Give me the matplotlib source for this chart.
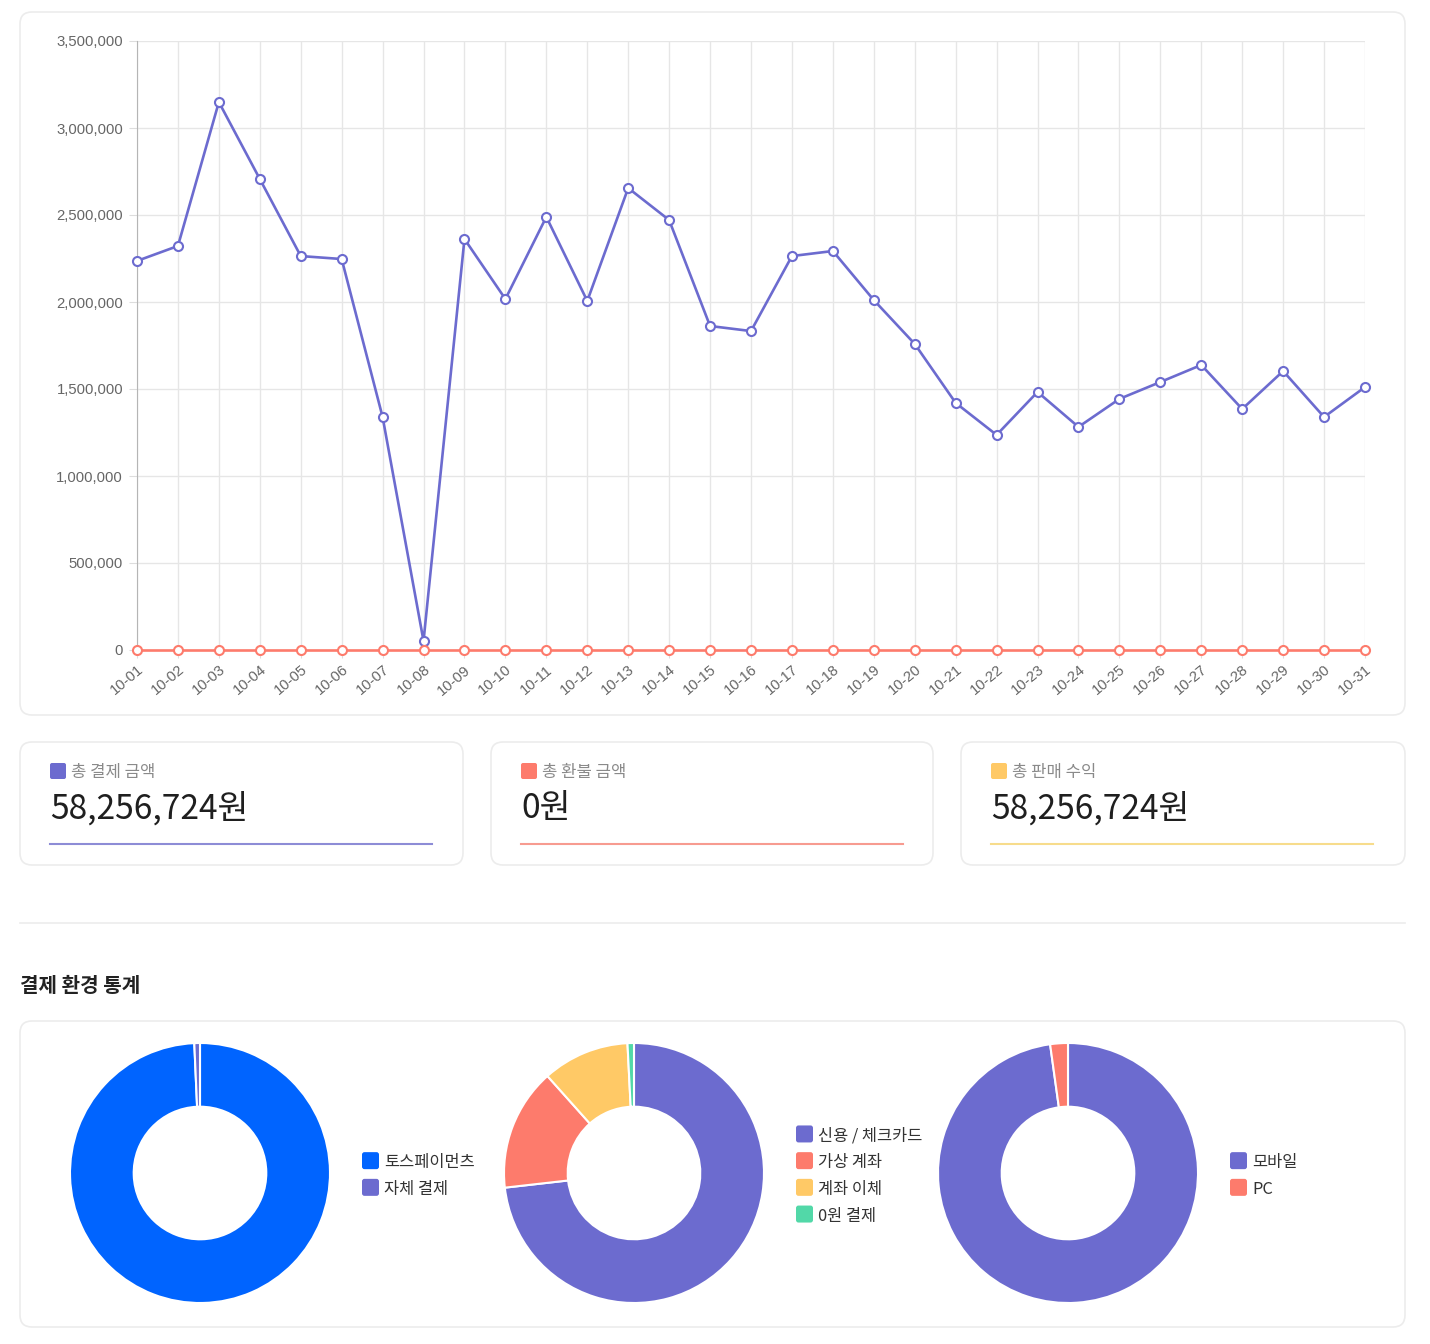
import matplotlib
matplotlib.use("Agg")
import matplotlib.pyplot as plt
from matplotlib.patches import FancyBboxPatch
from matplotlib.ticker import FuncFormatter, MultipleLocator

KR = ['Noto Sans CJK KR', 'DejaVu Sans']
AX_FONT = ['Liberation Sans', 'DejaVu Sans']

# ---- data ----
dates = ['10-01', '10-02', '10-03', '10-04', '10-05', '10-06', '10-07', '10-08',
         '10-09', '10-10', '10-11', '10-12', '10-13', '10-14', '10-15', '10-16',
         '10-17', '10-18', '10-19', '10-20', '10-21', '10-22', '10-23', '10-24',
         '10-25', '10-26', '10-27', '10-28', '10-29', '10-30', '10-31']
payments = [2236000, 2322000, 3149000, 2707000, 2264000, 2247000, 1339000, 52000,
            2362000, 2017000, 2489000, 2006000, 2655000, 2471000, 1862000, 1833000,
            2264000, 2293000, 2011000, 1759000, 1420000, 1236000, 1483000, 1282000,
            1443000, 1540000, 1638000, 1385000, 1603000, 1339000, 1511000]
refunds = [0, 0, 0, 0, 0, 0, 0, 0, 0, 0, 0, 0, 0, 0, 0, 0,
           0, 0, 0, 0, 0, 0, 0, 0, 0, 0, 0, 0, 0, 0, 0]

summary_labels = ['총 결제 금액', '총 환불 금액', '총 판매 수익']
summary_values = [58256724, 0, 58256724]

pg_labels = ['토스페이먼츠', '자체 결제']
pg_share = [99.3, 0.7]
method_labels = ['신용 / 체크카드', '가상 계좌', '계좌 이체', '0원 결제']
method_share = [73.2, 15.2, 10.8, 0.8]
device_labels = ['모바일', 'PC']
device_share = [97.8, 2.2]

PURPLE = '#6c6bcf'
RED = '#fd7b6c'
YELLOW = '#ffc966'
GREEN = '#52d8a8'
BLUE = '#0064ff'

W, H = 1430, 1344
fig = plt.figure(figsize=(W / 100, H / 100), dpi=100)
fig.patch.set_facecolor('white')

# background axes in pixel coords for cards and texts
bg = fig.add_axes([0, 0, 1, 1])
bg.set_xlim(0, W)
bg.set_ylim(H, 0)
bg.axis('off')


def card(x0, y0, x1, y1):
    bg.add_patch(FancyBboxPatch((x0, y0), x1 - x0, y1 - y0,
                                boxstyle='round,pad=0,rounding_size=12',
                                fc='white', ec='#ececec', lw=1.2))


def px_axes(x0, y0, x1, y1):
    return fig.add_axes([x0 / W, 1 - y1 / H, (x1 - x0) / W, (y1 - y0) / H])


# ---- line chart ----
card(20, 12, 1405, 715)
ax = px_axes(137, 41, 1365, 650)
xs = list(range(len(dates)))
ax.plot(xs, payments, color=PURPLE, lw=1.9, marker='o', ms=6.5, mfc='white',
        mec=PURPLE, mew=1.5, clip_on=False, zorder=3)
ax.plot(xs, refunds, color=RED, lw=1.9, marker='o', ms=6.5, mfc='white',
        mec=RED, mew=1.5, clip_on=False, zorder=4)
ax.set_xlim(0, len(dates) - 1)
ax.set_ylim(0, 3500000)
ax.yaxis.set_major_locator(MultipleLocator(500000))
ax.yaxis.set_major_formatter(FuncFormatter(lambda v, p: f"{int(v):,}"))
ax.set_xticks(xs)
ax.set_xticklabels(dates, rotation=40, ha='right', va='top', rotation_mode='anchor')
ax.grid(True, color='#e6e6e6', lw=1)
ax.set_axisbelow(True)
for s in ['top', 'right', 'bottom']:
    ax.spines[s].set_visible(False)
ax.spines['left'].set_color('#b5b5b5')
ax.tick_params(axis='both', length=6, color='#dddddd', labelcolor='#666666')
ax.tick_params(axis='y', pad=4)
ax.tick_params(axis='x', pad=3)
for lab in ax.get_xticklabels() + ax.get_yticklabels():
    lab.set_family(AX_FONT)
    lab.set_fontsize(10.7)

# ---- summary cards ----
card_x = [(20, 463), (491, 933), (961, 1405)]
card_colors = [PURPLE, RED, YELLOW]
line_colors = ['#8d8cd6', '#f79b90', '#f7dc8c']
for (x0, x1), lab, val, c, lc in zip(card_x, summary_labels, summary_values,
                                      card_colors, line_colors):
    card(x0, 742, x1, 865)
    bg.add_patch(FancyBboxPatch((x0 + 30, 763), 16, 16,
                                boxstyle='round,pad=0,rounding_size=2',
                                fc=c, ec='none'))
    bg.text(x0 + 51, 772, lab, family=KR, fontsize=12, color='#8a8a8a',
            va='center', ha='left')
    bg.text(x0 + 30, 809, f"{val:,}원", family=KR, fontsize=24.2, color='#1f1f1f',
            va='center', ha='left')
    bg.plot([x0 + 30, x0 + 412], [844, 844], color=lc, lw=1.5)

# separator and title
bg.plot([20, 1405], [923, 923], color='#ececec', lw=1.2)
bg.text(20, 986, '결제 환경 통계', family=KR, fontsize=14.5, fontweight='bold',
        color='#222222', va='center', ha='left')

# ---- donuts ----
card(20, 1021, 1405, 1327)
R = 130
donuts = [
    (200, pg_share, [BLUE, PURPLE], pg_labels, 362),
    (634, method_share, [PURPLE, RED, YELLOW, GREEN], method_labels, 796),
    (1068, device_share, [PURPLE, RED], device_labels, 1230),
]
cy = 1173
for cx, share, cols, labels, lx in donuts:
    dax = px_axes(cx - R, cy - R, cx + R, cy + R)
    wedges, _ = dax.pie(share, colors=cols, startangle=90, counterclock=False,
                        radius=1, wedgeprops=dict(width=0.49, edgecolor='white',
                                                  linewidth=1.5))
    for w in wedges:
        w.set_clip_on(False)
    dax.set_xlim(-1, 1)
    dax.set_ylim(-1, 1)
    dax.set_aspect('equal')
    dax.axis('off')
    n = len(labels)
    y0 = cy + 0.5 - (n - 1) * 26.7 / 2
    for i, (lab, c) in enumerate(zip(labels, cols)):
        yy = y0 + i * 26.7
        bg.add_patch(FancyBboxPatch((lx, yy - 8), 17, 17,
                                    boxstyle='round,pad=0,rounding_size=2.5',
                                    fc=c, ec='none'))
        bg.text(lx + 22, yy + 2.5, lab, family=KR, fontsize=11.8, color='#333333',
                va='center', ha='left')

fig.savefig('out.png', dpi=100, facecolor='white')
